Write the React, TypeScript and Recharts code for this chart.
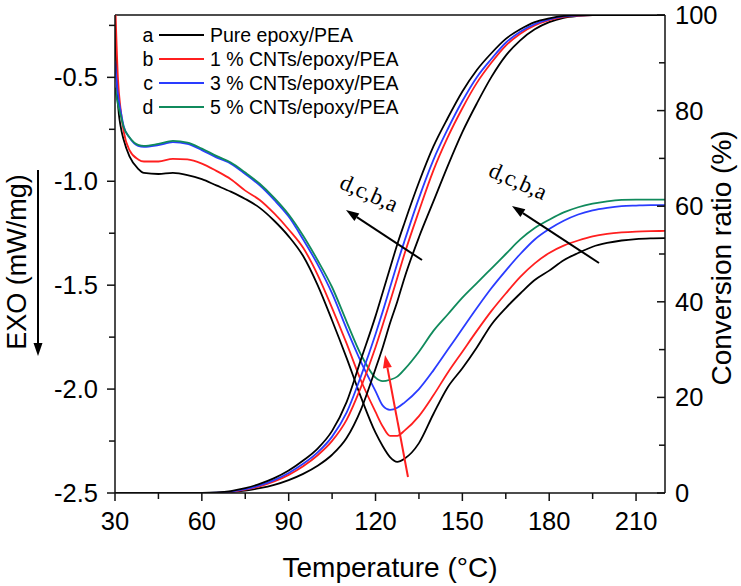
import React from "react";
import { LineChart, Line, XAxis, YAxis, ReferenceLine } from "recharts";

// Temperature grid (°C)
const temps = [
  30, 31, 32, 33, 35, 38, 40, 45, 50, 55, 60, 65, 70, 75, 80, 85, 90, 95, 100, 105, 110, 115, 120, 122.5, 125,
  127.5, 130, 135, 140, 145, 150, 155, 160, 165, 170, 175, 180, 185, 190, 195, 200, 205, 210, 215, 220,
];

// DSC heat flow (mW/mg), left axis
const dscPure = [
  -0.25, -0.62, -0.74, -0.8, -0.88, -0.94, -0.96, -0.965, -0.96, -0.97, -0.99, -1.02, -1.05, -1.085, -1.128,
  -1.19, -1.265, -1.36, -1.5, -1.67, -1.85, -2.04, -2.21, -2.275, -2.327, -2.35, -2.335, -2.26, -2.12, -1.99,
  -1.9, -1.8, -1.69, -1.61, -1.54, -1.475, -1.43, -1.38, -1.345, -1.315, -1.297, -1.285, -1.278, -1.275, -1.274,
];
const dscCnt1 = [
  -0.1, -0.5, -0.66, -0.76, -0.85, -0.895, -0.905, -0.905, -0.892, -0.895, -0.915, -0.95, -0.99, -1.045, -1.09,
  -1.155, -1.232, -1.32, -1.45, -1.61, -1.78, -1.96, -2.11, -2.18, -2.225, -2.225, -2.2, -2.13, -2.03, -1.92,
  -1.82, -1.72, -1.625, -1.54, -1.46, -1.395, -1.345, -1.31, -1.285, -1.265, -1.253, -1.246, -1.242, -1.24, -1.239,
];
const dscCnt3 = [
  -0.42, -0.58, -0.665, -0.735, -0.79, -0.83, -0.835, -0.826, -0.812, -0.82, -0.85, -0.885, -0.915, -0.965, -1.02,
  -1.09, -1.17, -1.28, -1.4, -1.54, -1.71, -1.87, -2.01, -2.08, -2.1, -2.09, -2.065, -2.0, -1.91, -1.81,
  -1.71, -1.61, -1.515, -1.43, -1.35, -1.28, -1.23, -1.19, -1.16, -1.14, -1.128, -1.12, -1.117, -1.115, -1.115,
];
const dscCnt5 = [
  -0.55, -0.63, -0.685, -0.74, -0.788, -0.825, -0.83, -0.82, -0.806, -0.814, -0.843, -0.878, -0.91, -0.958, -1.012,
  -1.08, -1.16, -1.262, -1.38, -1.51, -1.675, -1.835, -1.945, -1.962, -1.955, -1.94, -1.905, -1.82, -1.72, -1.64,
  -1.56, -1.49, -1.42, -1.35, -1.28, -1.225, -1.185, -1.15, -1.125, -1.108, -1.097, -1.09, -1.088, -1.088, -1.088,
];

// Conversion ratio (%), right axis
const convPure = [
  0, 0, 0, 0, 0, 0, 0, 0, 0, 0, 0, 0, 0.2, 0.5, 1.0,
  1.7, 2.7, 4.0, 5.7, 8.0, 11.5, 17.5, 26, 30.5, 35.5, 40, 45, 53.5, 61, 68.5,
  75.5, 81.5, 87, 91.5, 94.7, 97, 98.5, 99.4, 99.8, 100, 100, 100, 100, 100, 100,
];
const convCnt1 = [
  0, 0, 0, 0, 0, 0, 0, 0, 0, 0, 0, 0.03, 0.25, 0.7, 1.4,
  2.4, 3.8, 5.6, 7.9, 10.9, 15.3, 22.2, 30.5, 35.2, 40, 45, 50, 59, 67.5, 74.5,
  80.5, 85.8, 90, 93.6, 96.1, 97.8, 98.9, 99.6, 99.9, 100, 100, 100, 100, 100, 100,
];
const convCnt3 = [
  0, 0, 0, 0, 0, 0, 0, 0, 0, 0, 0, 0.05, 0.3, 0.8, 1.6,
  2.7, 4.2, 6.1, 8.5, 11.8, 16.8, 24.5, 33.2, 38, 43, 48, 52.7, 61.7, 69.7, 76.2,
  82, 87, 90.8, 94.2, 96.5, 98.1, 99.1, 99.7, 99.95, 100, 100, 100, 100, 100, 100,
];
const convCnt5 = [
  0, 0, 0, 0, 0, 0, 0, 0, 0, 0, 0, 0.1, 0.4, 1.0, 1.9,
  3.1, 4.7, 6.8, 9.3, 13, 19, 28, 37, 42, 47, 52, 56.5, 65, 72.5, 78.5,
  84, 88.5, 92, 95, 97, 98.5, 99.3, 99.8, 100, 100, 100, 100, 100, 100, 100,
];

const xTicks = [30, 45, 60, 75, 90, 105, 120, 135, 150, 165, 180, 195, 210];
const leftTicks = [-2.5, -2.25, -2.0, -1.75, -1.5, -1.25, -1.0, -0.75, -0.5, -0.25];
const rightTicks = [0, 10, 20, 30, 40, 50, 60, 70, 80, 90, 100];

const legendItems = [
  { letter: "a", label: "Pure epoxy/PEA", color: "#000000" },
  { letter: "b", label: "1 % CNTs/epoxy/PEA", color: "#ff1f1f" },
  { letter: "c", label: "3 % CNTs/epoxy/PEA", color: "#2a3cff" },
  { letter: "d", label: "5 % CNTs/epoxy/PEA", color: "#108a5c" },
];

const data = temps.map((t, i) => ({
  t,
  dscA: dscPure[i],
  dscB: dscCnt1[i],
  dscC: dscCnt3[i],
  dscD: dscCnt5[i],
  convA: convPure[i],
  convB: convCnt1[i],
  convC: convCnt3[i],
  convD: convCnt5[i],
}));

const FONT = "'Liberation Sans', Arial, sans-serif";
const SERIF = "'Liberation Serif', 'Times New Roman', serif";
const AXIS = "#111";

const XTick = ({ x, y, payload }: any) => {
  const major = payload.value % 30 === 0;
  return (
    <g>
      <line x1={x} x2={x} y1={y} y2={y + (major ? 8 : 6)} stroke={AXIS} strokeWidth={1.5} />
      {major && (
        <text x={x} y={y + 37} textAnchor="middle" fontSize={25.5} fontFamily={FONT} fill="#000">
          {payload.value}
        </text>
      )}
    </g>
  );
};

const LeftTick = ({ x, y, payload }: any) => {
  const v = payload.value;
  const major = Math.abs(v * 2 - Math.round(v * 2)) < 1e-6;
  return (
    <g>
      <line x1={x - (major ? 8 : 6)} x2={x} y1={y} y2={y} stroke={AXIS} strokeWidth={1.5} />
      {major && (
        <text x={x - 17} y={y + 9} textAnchor="end" fontSize={25.5} fontFamily={FONT} fill="#000">
          {v.toFixed(1)}
        </text>
      )}
    </g>
  );
};

const RightTick = ({ x, y, payload }: any) => {
  const v = payload.value;
  const major = v % 20 === 0;
  return (
    <g>
      <line x1={x - (major ? 8 : 6)} x2={x} y1={y} y2={y} stroke={AXIS} strokeWidth={1.5} />
      {major && (
        <text x={x + 10} y={y + 9} textAnchor="start" fontSize={25.5} fontFamily={FONT} fill="#000">
          {v}
        </text>
      )}
    </g>
  );
};

function Arrow({ x1, y1, x2, y2, color }: { x1: number; y1: number; x2: number; y2: number; color: string }) {
  const ang = Math.atan2(y2 - y1, x2 - x1);
  const len = 13;
  const half = 4.5;
  const bx = x2 - len * Math.cos(ang);
  const by = y2 - len * Math.sin(ang);
  const px = -Math.sin(ang) * half;
  const py = Math.cos(ang) * half;
  return (
    <g>
      <line x1={x1} y1={y1} x2={bx} y2={by} stroke={color} strokeWidth={2} />
      <polygon points={`${x2},${y2} ${bx + px},${by + py} ${bx - px},${by - py}`} fill={color} />
    </g>
  );
}

export default function App() {
  const line = (key: string, axis: string, color: string) => (
    <Line
      key={key}
      yAxisId={axis}
      type="monotone"
      dataKey={key}
      stroke={color}
      strokeWidth={1.8}
      dot={false}
      isAnimationActive={false}
    />
  );

  return (
    <div style={{ position: "absolute", left: 0, top: 0, width: 741, height: 586, background: "#fff" }}>
      <LineChart width={741} height={586} data={data} margin={{ top: 15, right: 0, left: 55, bottom: 53 }}>
        <XAxis
          type="number"
          dataKey="t"
          domain={[30, 220]}
          ticks={xTicks}
          interval={0}
          allowDataOverflow
          height={40}
          tickSize={0}
          tickMargin={0}
          tick={<XTick />}
          axisLine={{ stroke: AXIS, strokeWidth: 1.5 }}
        />
        <YAxis
          yAxisId="left"
          orientation="left"
          domain={[-2.5, -0.2]}
          ticks={leftTicks}
          interval={0}
          allowDataOverflow
          width={60}
          tickSize={0}
          tickMargin={0}
          tick={<LeftTick />}
          axisLine={{ stroke: AXIS, strokeWidth: 1.5 }}
        />
        <YAxis
          yAxisId="right"
          orientation="right"
          domain={[0, 100]}
          ticks={rightTicks}
          interval={0}
          allowDataOverflow
          width={76}
          tickSize={0}
          tickMargin={0}
          tick={<RightTick />}
          axisLine={{ stroke: AXIS, strokeWidth: 1.5 }}
        />
        <ReferenceLine yAxisId="left" y={-0.2} stroke={AXIS} strokeWidth={1.5} />
        {line("dscA", "left", "#000000")}
        {line("dscB", "left", "#ff1f1f")}
        {line("dscC", "left", "#2a3cff")}
        {line("dscD", "left", "#108a5c")}
        {line("convA", "right", "#000000")}
        {line("convB", "right", "#ff1f1f")}
        {line("convC", "right", "#2a3cff")}
        {line("convD", "right", "#000000")}
      </LineChart>

      <svg width={741} height={586} style={{ position: "absolute", left: 0, top: 0, pointerEvents: "none" }}>
        {/* legend */}
        {legendItems.map((it, i) => {
          const cy = 35 + i * 24;
          return (
            <g key={it.letter}>
              <text x={148} y={cy + 7} textAnchor="middle" fontSize={19.5} fontFamily={FONT} fill="#000">
                {it.letter}
              </text>
              <line x1={159} x2={204} y1={cy} y2={cy} stroke={it.color} strokeWidth={2} />
              <text x={210} y={cy + 7} fontSize={19.5} fontFamily={FONT} fill="#000">
                {it.label}
              </text>
            </g>
          );
        })}

        {/* axis titles */}
        <text x={390} y={577} textAnchor="middle" fontSize={28} fontFamily={FONT} fill="#000">
          Temperature (°C)
        </text>
        <text
          transform="translate(26,262) rotate(-90)"
          textAnchor="middle"
          fontSize={27}
          fontFamily={FONT}
          fill="#000"
        >
          EXO (mW/mg)
        </text>
        <Arrow x1={38} y1={170} x2={38} y2={356} color="#000" />
        <text
          transform="translate(731,258) rotate(-90)"
          textAnchor="middle"
          fontSize={28}
          fontFamily={FONT}
          fill="#000"
        >
          Conversion ratio (%)
        </text>

        {/* annotations */}
        <Arrow x1={422} y1={260} x2={346} y2={210} color="#000" />
        <Arrow x1={599} y1={263} x2={512} y2={206} color="#000" />
        <Arrow x1={408} y1={477} x2={385} y2={355} color="#ff1f1f" />
        <text transform="translate(366,200) rotate(24)" textAnchor="middle" fontSize={23} fontFamily={SERIF} fill="#000">
          d,c,b,a
        </text>
        <text transform="translate(515,188) rotate(24)" textAnchor="middle" fontSize={23} fontFamily={SERIF} fill="#000">
          d,c,b,a
        </text>
      </svg>
    </div>
  );
}
